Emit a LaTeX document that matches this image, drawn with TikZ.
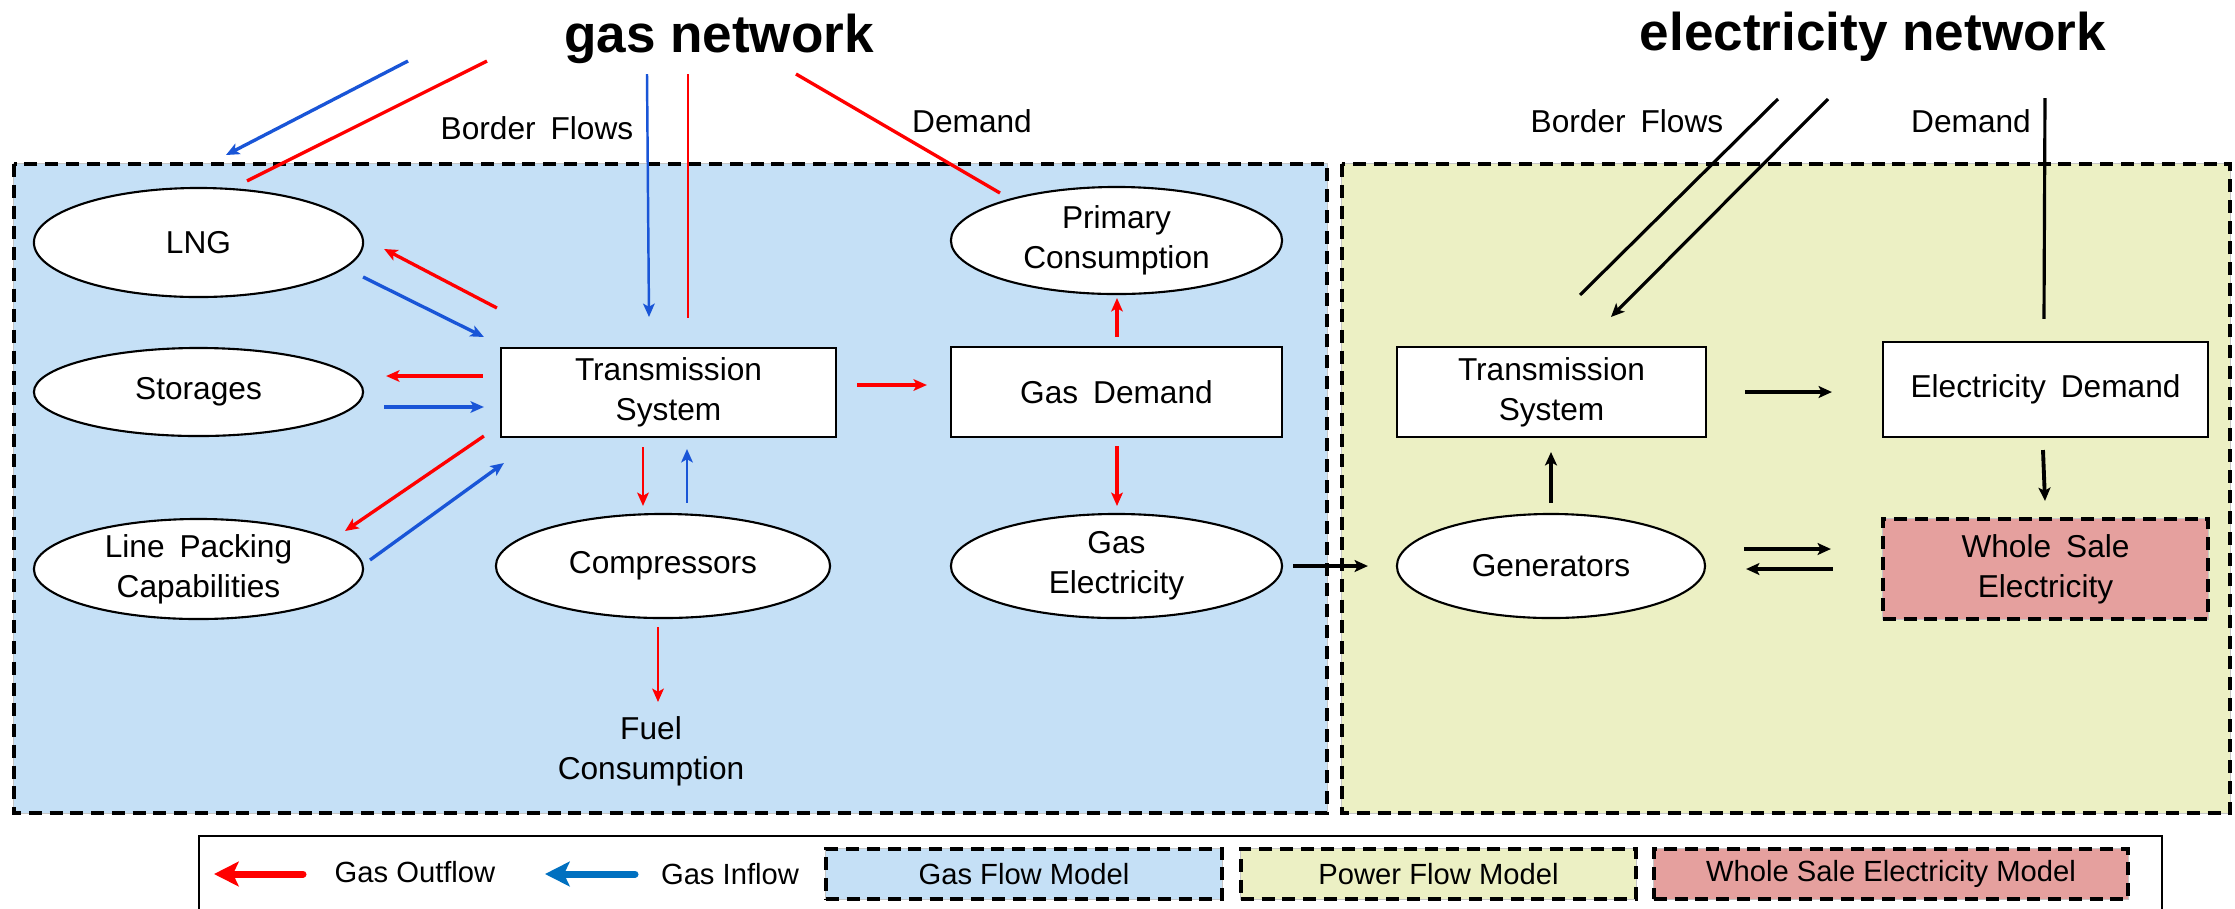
\documentclass[tikz,border=0pt]{standalone}
\usepackage{fontspec}
\setmainfont{Liberation Sans}
\newfontfamily\nodefont{Liberation Sans}[WordSpace=1.7]
\usetikzlibrary{arrows.meta,shapes.geometric}
\definecolor{gasfill}{RGB}{197,224,246}
\definecolor{powfill}{RGB}{236,240,196}
\definecolor{wsfill}{RGB}{229,160,158}
\definecolor{gred}{RGB}{255,0,0}
\definecolor{gblue}{RGB}{25,85,215}
\definecolor{legblue}{RGB}{0,112,192}
\tikzset{
  txt/.style={font=\nodefont\fontsize{9}{11.38}\selectfont, align=center, outer sep=0pt},
  lbl/.style={font=\nodefont\fontsize{9}{11.38}\selectfont, inner sep=0pt, outer sep=0pt},
  ttl/.style={font=\bfseries\fontsize{15.1}{18}\selectfont, inner sep=0pt, outer sep=0pt},
  legtxt/.style={font=\fontsize{8.3}{10}\selectfont, inner sep=0pt, outer sep=0pt},
  ell/.style={txt, ellipse, draw=black, line width=0.6pt, fill=white, inner sep=0pt},
  rbox/.style={txt, rectangle, draw=black, line width=0.6pt, fill=white, inner sep=0pt},
  dashframe/.style={draw=black, line width=1.15pt, dash pattern=on 3.7pt off 2.2pt,
     preaction={draw=gray!45, line width=0.35pt, solid}},
  wsbox/.style={txt, rectangle, fill=wsfill, dashframe, inner sep=0pt},
  legbox/.style={rectangle, dashframe, inner sep=0pt, outer sep=0pt, minimum height=0.50cm,
     font=\fontsize{8.3}{10}\selectfont},
  tip/.style={-{Stealth[length=3.8pt,width=3.3pt,inset=0.9pt]}},
  redln/.style={draw=gred, line width=0.95pt},
  redthin/.style={draw=gred, line width=0.7pt},
  redthick/.style={draw=gred, line width=1.15pt},
  blueln/.style={draw=gblue, line width=0.95pt},
  bluethin/.style={draw=gblue, line width=0.7pt},
  bluethick/.style={draw=gblue, line width=1.15pt},
  blkln/.style={draw=black, line width=0.9pt},
  blkarr/.style={draw=black, line width=1.1pt, -{Stealth[length=3.8pt,width=3.4pt,inset=0.9pt]}},
  legred/.style={draw=gred, line width=2pt, line cap=round, -{Stealth[length=7pt,width=7pt,inset=1.6pt]}},
  legblue/.style={draw=legblue, line width=2pt, line cap=round, -{Stealth[length=7pt,width=7pt,inset=1.6pt]}}
}
\begin{document}
\begin{tikzpicture}[x=0.01cm,y=-0.01cm]
\useasboundingbox (0,0) rectangle (2235,908);
\fill[white] (0,0) rectangle (2235,908);
\begin{scope}
  \clip (0,0) rectangle (2235,908);
  \path[fill=gasfill, dashframe] (14,164) rectangle (1327,813);
  \path[fill=powfill, dashframe] (1342,164) rectangle (2230,813);
  \draw[line width=0.6pt] (199,930) -- (199,836) -- (2162,836) -- (2162,930);
\end{scope}

% titles and labels
\node[ttl, anchor=base] (gtitle) at (719,52) {gas network};
\node[ttl, anchor=base] (etitle) at (1873,50) {electricity network};
\node[lbl, anchor=base] (gbf) at (537,139) {Border Flows};
\node[lbl, anchor=base] (gdl) at (972,132) {Demand};
\node[lbl, anchor=base] (ebf) at (1627,132) {Border Flows};
\node[lbl, anchor=base] (edl) at (1971,132) {Demand};

% gas nodes
\node[ell, minimum width=3.29cm, minimum height=1.09cm] (lng) at (198.5,242.5) {LNG};
\node[ell, minimum width=3.29cm, minimum height=0.88cm] (sto) at (198.5,392) {Storages};
\node[ell, minimum width=3.29cm, minimum height=1.00cm] (lpc) at (198.5,569) {Line Packing\\Capabilities};
\node[rbox, minimum width=3.35cm, minimum height=0.89cm] (gts) at (668.5,392.5) {Transmission\\System};
\node[ell, minimum width=3.34cm, minimum height=1.04cm] (comp) at (663,566) {Compressors};
\node[txt, anchor=north, inner sep=0pt] (fuel) at (651,717) {Fuel\\Consumption};
\node[ell, minimum width=3.31cm, minimum height=1.07cm] (pc) at (1116.5,240.5) {Primary\\Consumption};
\node[rbox, minimum width=3.31cm, minimum height=0.90cm] (gd) at (1116.5,392) {Gas Demand};
\node[ell, minimum width=3.31cm, minimum height=1.04cm] (ge) at (1116.5,566) {Gas\\Electricity};

% electricity nodes
\node[rbox, minimum width=3.09cm, minimum height=0.90cm] (ets) at (1551.5,392) {Transmission\\System};
\node[rbox, minimum width=3.25cm, minimum height=0.95cm] (ed) at (2045.5,389.5) {Electricity Demand};
\node[ell, minimum width=3.08cm, minimum height=1.04cm] (gen) at (1551,566) {Generators};
\node[wsbox, minimum width=3.25cm, minimum height=1.00cm] (ws) at (2045.5,569) {Whole Sale\\Electricity};

% free ends at the top
\coordinate (gb1) at (408,61);
\coordinate (gb1e) at (226,155);
\coordinate (gr1) at (487,61);
\coordinate (gb2) at (647,74);
\coordinate (gr2) at (688,74);
\coordinate (gdm) at (796,74);
\coordinate (eb1) at (1778,99);
\coordinate (eb2) at (1828,99);
\coordinate (edm) at (2045,98);

% gas border flows and demand
\draw[blueln, tip] (gb1) -- (gb1e);
\draw[redln] ([shift={(48.5,-7)}]lng.north) -- (gr1);
\draw[bluethin, tip] (gb2) -- ([shift={(-19.5,-31)}]gts.north);
\draw[redthin] ([shift={(19.5,-30)}]gts.north) -- (gr2);
\draw[redln] ([shift={(-116.5,-47.5)}]pc.center) -- (gdm);

% gas internal flows
\draw[redln, tip] ([shift={(-4,-40)}]gts.north west) -- ([shift={(21,6.5)}]lng.east);
\draw[blueln, tip] ([shift={(0,34.5)}]lng.east) -- ([shift={(-17,-11)}]gts.north west);
\draw[redthick, tip] ([shift={(-18,-16.5)}]gts.west) -- ([shift={(23,-16)}]sto.east);
\draw[bluethick, tip] ([shift={(21,15)}]sto.east) -- ([shift={(-17,14.5)}]gts.west);
\draw[redln, tip] ([shift={(-17,-1)}]gts.south west) -- ([shift={(146.5,-38)}]lpc.center);
\draw[blueln, tip] ([shift={(171.5,-9)}]lpc.center) -- ([shift={(3,26)}]gts.south west);
\draw[redthin, tip] ([shift={(-25.5,10)}]gts.south) -- ([shift={(-20,-8)}]comp.north);
\draw[bluethin, tip] ([shift={(24,-11)}]comp.north) -- ([shift={(18.5,12)}]gts.south);
\draw[redthin, tip] ([shift={(-5,9)}]comp.south) -- ([shift={(7,-15)}]fuel.north);
\draw[redthick, tip] ([shift={(21,-7.5)}]gts.east) -- ([shift={(-24,-7)}]gd.west);
\draw[redln, tip] ([shift={(0.5,-10)}]gd.north) -- ([shift={(0.5,4)}]pc.south);
\draw[redln, tip] ([shift={(0.5,9)}]gd.south) -- ([shift={(0.5,-8)}]ge.north);

% coupling
\draw[blkarr] ([shift={(11,0)}]ge.east) -- ([shift={(-29,0)}]gen.west);

% electricity flows
\draw[blkln] ([shift={(28.5,-52)}]ets.north) -- (eb1);
\draw[blkarr, line width=0.9pt] (eb2) -- ([shift={(59.5,-30)}]ets.north);
\draw[blkln] ([shift={(-1.5,-23)}]ed.north) -- (edm);
\draw[blkarr] ([shift={(39,0)}]ets.east) -- ([shift={(-51,2.5)}]ed.west);
\draw[blkarr] ([shift={(-2.5,13)}]ed.south) -- ([shift={(-0.5,-18)}]ws.north);
\draw[blkarr] ([shift={(0,-11)}]gen.north) -- ([shift={(-0.5,15)}]ets.south);
\draw[blkarr] ([shift={(39,-17)}]gen.east) -- ([shift={(-52,-20)}]ws.west);
\draw[blkarr] ([shift={(-50,0)}]ws.west) -- ([shift={(41,3)}]gen.east);

% legend
\coordinate (lr1) at (303,874);
\coordinate (lr2) at (214,874);
\coordinate (lb1) at (635,874);
\coordinate (lb2) at (545,874);
\draw[legred] (lr1) -- (lr2);
\node[legtxt, anchor=base] (lout) at (415,882) {Gas Outflow};
\draw[legblue] (lb1) -- (lb2);
\node[legtxt, anchor=base] (linf) at (730,884) {Gas Inflow};
\node[legbox, fill=gasfill, minimum width=3.96cm] (lgas) at (1024,874) {Gas Flow Model};
\node[legbox, fill=powfill, minimum width=3.95cm] (lpow) at (1438.5,874) {Power Flow Model};
\node[legbox, fill=wsfill, minimum width=4.74cm] (lws) at (1891,874) {Whole Sale Electricity Model};
\end{tikzpicture}
\end{document}
